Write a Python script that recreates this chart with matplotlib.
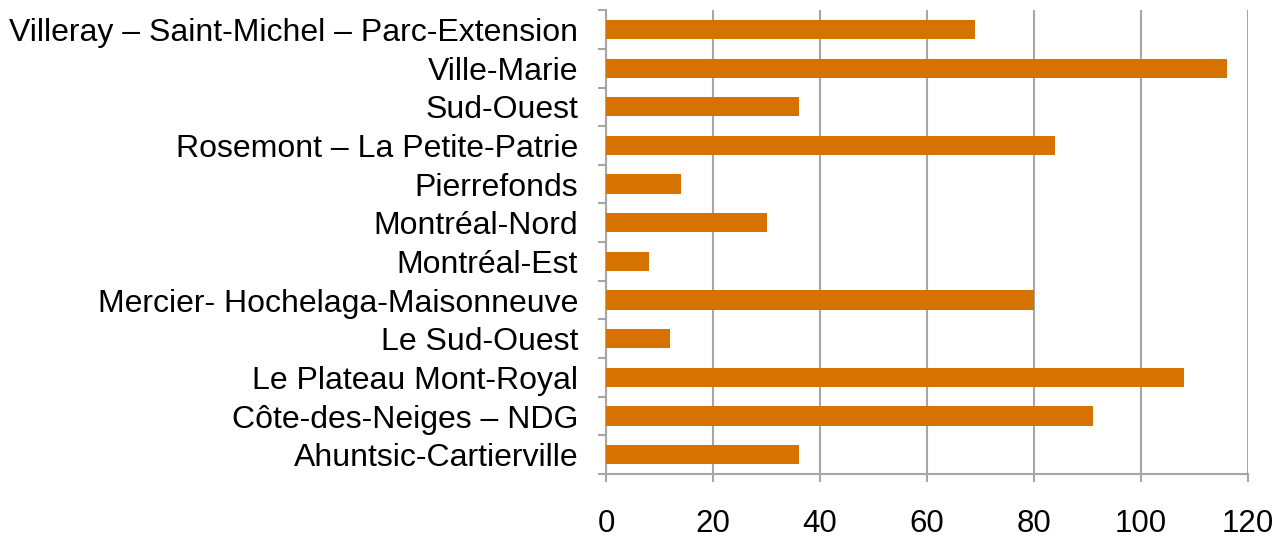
import matplotlib
matplotlib.use('Agg')
import matplotlib.pyplot as plt
import numpy as np

# boroughs, listed bottom to top as in the chart
boroughs = ['Ahuntsic-Cartierville', 'Côte-des-Neiges – NDG', 'Le Plateau Mont-Royal',
            'Le Sud-Ouest', 'Mercier- Hochelaga-Maisonneuve', 'Montréal-Est',
            'Montréal-Nord', 'Pierrefonds', 'Rosemont – La Petite-Patrie',
            'Sud-Ouest', 'Ville-Marie', 'Villeray – Saint-Michel – Parc-Extension']
values = [36, 91, 108, 12, 80, 8, 30, 14, 84, 36, 116, 69]
xticks = [0, 20, 40, 60, 80, 100, 120]

plt.rcParams['font.family'] = ['Liberation Sans', 'DejaVu Sans']

fig = plt.figure(figsize=(12.88, 5.37), dpi=100)
ax = fig.add_axes([0.4705, 0.1173, 0.969 - 0.4705, 0.981 - 0.1173])

y = np.arange(len(boroughs))
ax.barh(y, values, height=0.5, color='#D57200', zorder=3)

grey = '#A6A6A6'
ax.set_xlim(0, 120)
ax.set_ylim(-0.5, len(boroughs) - 0.5)
ax.set_xticks(xticks)
ax.set_xticklabels([str(v) for v in xticks])
ax.xaxis.grid(True, color=grey, linewidth=1.5, zorder=0)

# labels at bar centres, tick marks at category boundaries
ax.set_yticks(y)
ax.set_yticklabels(boroughs)
ax.set_yticks(np.arange(-0.5, len(boroughs)), minor=True)
ax.tick_params(axis='y', which='major', length=0, pad=20, labelsize=23)
ax.tick_params(axis='y', which='minor', length=6, width=1.5, color=grey)
ax.tick_params(axis='x', length=6, width=1.5, color=grey, pad=19, labelsize=22.5)

for s in ['top', 'right']:
    ax.spines[s].set_visible(False)
for s in ['left', 'bottom']:
    ax.spines[s].set_color(grey)
    ax.spines[s].set_linewidth(1.5)

fig.savefig('out.png', dpi=100)
